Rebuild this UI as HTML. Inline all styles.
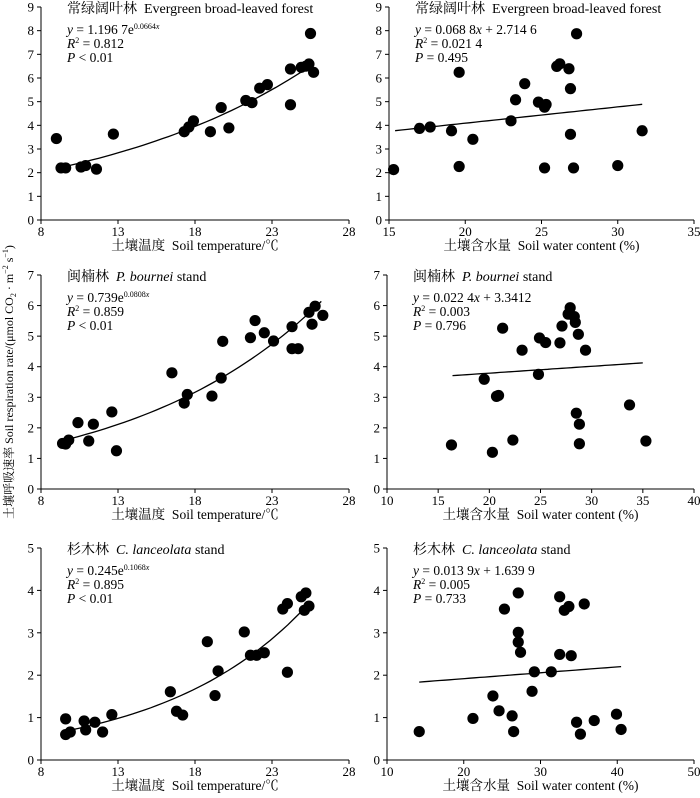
<!DOCTYPE html>
<html><head><meta charset="utf-8">
<style>
html,body{margin:0;padding:0;background:#fff;}
svg{display:block;font-family:"Liberation Serif","Noto Serif CJK SC",serif;}
</style></head>
<body>
<svg id="chart" width="700" height="798" viewBox="0 0 700 798" xmlns="http://www.w3.org/2000/svg">
<text transform="translate(13,382) rotate(-90)" text-anchor="middle" font-size="12">土壤呼吸速率&#160;Soil respiration rate/(μmol CO<tspan font-size="8" dy="3">2</tspan><tspan dy="-3"> · m</tspan><tspan font-size="8" dy="-5">−2</tspan><tspan dy="5"> s</tspan><tspan font-size="8" dy="-5">−1</tspan><tspan dy="5">)</tspan></text>
</svg>
<script>
// ---- data ----
const ebfTemp = [9.0,9.3,9.6,10.6,10.9,11.6,12.7,17.3,17.6,17.9,19.0,19.7,20.2,21.3,21.7,22.2,22.7,24.2,24.2,24.9,25.2,25.4,25.5,25.7];
const ebfTempRs = [3.44,2.2,2.2,2.24,2.3,2.15,3.63,3.73,3.93,4.19,3.73,4.75,3.89,5.05,4.96,5.57,5.72,6.38,4.87,6.45,6.5,6.59,7.88,6.24];
const ebfWater = [15.3,17.0,17.7,19.1,19.6,19.6,20.5,23.0,23.3,23.9,24.8,25.2,25.3,25.2,26.0,26.2,26.8,26.9,26.9,27.1,27.3,30.0,31.6];
const ebfWaterRs = [2.13,3.87,3.93,3.77,6.24,2.26,3.41,4.19,5.08,5.76,4.98,4.77,4.88,2.2,6.49,6.6,6.39,5.55,3.62,2.2,7.87,2.3,3.77];
const pbTemp = [9.4,9.6,9.8,10.4,11.1,11.4,12.6,12.9,16.5,17.3,17.5,19.1,19.7,19.8,21.6,21.9,22.5,23.1,24.3,24.3,24.7,25.4,25.6,25.8,26.3];
const pbTempRs = [1.49,1.47,1.6,2.17,1.57,2.12,2.52,1.25,3.8,2.81,3.09,3.04,3.63,4.83,4.95,5.51,5.11,4.84,5.31,4.59,4.59,5.78,5.39,5.98,5.68];
const pbWater = [16.3,19.5,20.3,20.7,20.9,21.3,22.3,23.2,24.8,24.9,25.5,26.9,27.1,27.7,27.9,28.3,28.4,28.5,28.7,28.8,28.8,29.4,33.7,35.3];
const pbWaterRs = [1.44,3.59,1.2,3.03,3.06,5.26,1.6,4.54,3.75,4.94,4.79,4.78,5.33,5.72,5.93,5.64,5.45,2.48,5.06,2.12,1.48,4.54,2.75,1.57];
const clTemp = [9.6,9.6,9.9,10.8,10.9,11.5,12.0,12.6,16.4,16.8,17.2,18.8,19.3,19.5,21.2,21.6,22.0,22.5,23.7,24.0,24.0,24.9,25.2,25.1,25.4];
const clTempRs = [0.97,0.6,0.66,0.92,0.71,0.89,0.66,1.07,1.61,1.15,1.06,2.79,1.52,2.1,3.02,2.47,2.47,2.53,3.56,3.69,2.07,3.85,3.94,3.53,3.63];
const clWater = [14.2,21.2,23.8,24.6,25.3,26.3,26.5,27.1,27.1,27.1,27.4,28.9,29.2,31.4,32.5,32.5,33.1,33.7,34.0,34.7,35.2,35.7,37.0,39.9,40.5];
const clWaterRs = [0.67,0.98,1.51,1.16,3.56,1.04,0.67,3.94,3.01,2.78,2.54,1.62,2.08,2.08,3.85,2.49,3.53,3.62,2.46,0.89,0.61,3.68,0.93,1.08,0.72];
// fit coefficients [a, b] and fit x-range
const fitEbfTemp = [1.1967, 0.0664], rangeEbfTemp = [9.3, 25.7];
const fitEbfWater = [0.0688, 2.7146], rangeEbfWater = [15.4, 31.6];
const fitPbTemp = [0.739, 0.0808], rangePbTemp = [9.7, 26.2];
const fitPbWater = [0.0224, 3.3412], rangePbWater = [16.4, 35.0];
const fitClTemp = [0.245, 0.1068], rangeClTemp = [9.7, 25.2];
const fitClWater = [0.0139, 1.6399], rangeClWater = [14.2, 40.5];
// tick labels
const tempTicks = [8,13,18,23,28];
const waterTicks1 = [15,20,25,30,35];
const waterTicks2 = [10,15,20,25,30,35,40];
const waterTicks3 = [10,20,30,40,50];
const yTicks9 = [0,1,2,3,4,5,6,7,8,9];
const yTicks7 = [0,1,2,3,4,5,6,7];
const yTicks5 = [0,1,2,3,4,5];

const NS = "http://www.w3.org/2000/svg";
const svg = document.getElementById('chart');
function mk(tag, attrs, parent, text){
  const e = document.createElementNS(NS, tag);
  for (const k in attrs) e.setAttribute(k, attrs[k]);
  if (text !== undefined) e.textContent = text;
  (parent||svg).appendChild(e);
  return e;
}
function panel(o){
  const g = mk('g', {});
  
  
  const xs = v => o.x0 + (v - o.xt[0]) / (o.xt[o.xt.length-1] - o.xt[0]) * (o.x1 - o.x0);
  const ys = v => o.y0 - (v - o.yt[0]) / (o.yt[o.yt.length-1] - o.yt[0]) * (o.y0 - o.y1);
  const ax = mk('path', {d:`M${o.x0},${o.y1} V${o.y0} H${o.x1}`, stroke:'#000', 'stroke-width':1, fill:'none'}, g);
  
  
  o.yt.forEach(t => {
    const y = ys(t);
    mk('line', {x1:o.x0-4, x2:o.x0, y1:y, y2:y, stroke:'#000'}, g);
    const l = mk('text', {x:o.x0-7, y:y+4.5, 'text-anchor':'end', 'font-size':13}, g, t);
    
    
  });
  o.xt.forEach(t => {
    const x = xs(t);
    mk('line', {x1:x, x2:x, y1:o.y0, y2:o.y0+4, stroke:'#000'}, g);
    const l = mk('text', {x:x, y:o.y0+16, 'text-anchor':'middle', 'font-size':13}, g, t);
    
    
  });
  const xt = mk('text', {x:(o.x0+o.x1)/2, y:o.y0+30, 'text-anchor':'middle', 'font-size':13.5}, g, o.xlabel);
  
  
  let d = '';
  const n = 40;
  for (let i = 0; i <= n; i++) {
    const xv = o.range[0] + (o.range[1]-o.range[0]) * i / n;
    const yv = o.exp ? o.fit[0]*Math.exp(o.fit[1]*xv) : o.fit[0]*xv + o.fit[1];
    d += (i ? 'L' : 'M') + xs(xv).toFixed(1) + ',' + ys(yv).toFixed(1);
  }
  const fl = mk('path', {d:d, stroke:'#000', 'stroke-width':1.3, fill:'none'}, g);
  
  
  o.xv.forEach((v, i) => {
    const c = mk('circle', {cx:xs(v), cy:ys(o.yv[i]), r:5.6, fill:'#000'}, g);
    
    
  });
  const tx = o.x0 + 26;
  const tt = mk('text', {x:tx, y:o.y1+6, 'font-size':14}, g);
  tt.innerHTML = o.title;
  
  
  const eq = mk('text', {x:tx, y:o.y1+27, 'font-size':13.5}, g);
  eq.innerHTML = o.eq;
  
  
  const r2 = mk('text', {x:tx, y:o.y1+41, 'font-size':13.5}, g);
  r2.innerHTML = '<tspan font-style="italic">R</tspan><tspan font-size="8" dy="-5">2</tspan><tspan dy="5"> = ' + o.r2 + '</tspan>';
  
  
  const p = mk('text', {x:tx, y:o.y1+55, 'font-size':13.5}, g);
  p.innerHTML = '<tspan font-style="italic">P</tspan> ' + o.p;
  
  
}
const TX = '土壤温度\u00a0\u00a0Soil temperature/℃', WX = '土壤含水量\u00a0\u00a0Soil water content (%)';
const L = [41, 349], R1 = [389, 694], R = [387, 694];
panel({name:'panel-ebf-temperature', x0:L[0], x1:L[1], y0:220, y1:7, xt:tempTicks, yt:yTicks9, xv:ebfTemp, yv:ebfTempRs, fit:fitEbfTemp, range:rangeEbfTemp, exp:true, xlabel:TX,
  title:'常绿阔叶林&#160;&#160;Evergreen broad-leaved forest', eq:'<tspan font-style="italic">y</tspan> = 1.196 7e<tspan font-size="8" dy="-5">0.0664<tspan font-style="italic">x</tspan></tspan>', r2:'0.812', p:'&lt; 0.01'});
panel({name:'panel-ebf-water', x0:R1[0], x1:R1[1], y0:220, y1:7, xt:waterTicks1, yt:yTicks9, xv:ebfWater, yv:ebfWaterRs, fit:fitEbfWater, range:rangeEbfWater, exp:false, xlabel:WX,
  title:'常绿阔叶林&#160;&#160;Evergreen broad-leaved forest', eq:'<tspan font-style="italic">y</tspan> = 0.068 8<tspan font-style="italic">x</tspan> + 2.714 6', r2:'0.021 4', p:'= 0.495'});
panel({name:'panel-pb-temperature', x0:L[0], x1:L[1], y0:489, y1:275, xt:tempTicks, yt:yTicks7, xv:pbTemp, yv:pbTempRs, fit:fitPbTemp, range:rangePbTemp, exp:true, xlabel:TX,
  title:'闽楠林&#160;&#160;<tspan font-style="italic">P. bournei</tspan> stand', eq:'<tspan font-style="italic">y</tspan> = 0.739e<tspan font-size="8" dy="-5">0.0808<tspan font-style="italic">x</tspan></tspan>', r2:'0.859', p:'&lt; 0.01'});
panel({name:'panel-pb-water', x0:R[0], x1:R[1], y0:489, y1:275, xt:waterTicks2, yt:yTicks7, xv:pbWater, yv:pbWaterRs, fit:fitPbWater, range:rangePbWater, exp:false, xlabel:WX,
  title:'闽楠林&#160;&#160;<tspan font-style="italic">P. bournei</tspan> stand', eq:'<tspan font-style="italic">y</tspan> = 0.022 4<tspan font-style="italic">x</tspan> + 3.3412', r2:'0.003', p:'= 0.796'});
panel({name:'panel-cl-temperature', x0:L[0], x1:L[1], y0:760, y1:548, xt:tempTicks, yt:yTicks5, xv:clTemp, yv:clTempRs, fit:fitClTemp, range:rangeClTemp, exp:true, xlabel:TX,
  title:'杉木林&#160;&#160;<tspan font-style="italic">C. lanceolata</tspan> stand', eq:'<tspan font-style="italic">y</tspan> = 0.245e<tspan font-size="8" dy="-5">0.1068<tspan font-style="italic">x</tspan></tspan>', r2:'0.895', p:'&lt; 0.01'});
panel({name:'panel-cl-water', x0:R[0], x1:R[1], y0:760, y1:548, xt:waterTicks3, yt:yTicks5, xv:clWater, yv:clWaterRs, fit:fitClWater, range:rangeClWater, exp:false, xlabel:WX,
  title:'杉木林&#160;&#160;<tspan font-style="italic">C. lanceolata</tspan> stand', eq:'<tspan font-style="italic">y</tspan> = 0.013 9<tspan font-style="italic">x</tspan> + 1.639 9', r2:'0.005', p:'= 0.733'});
</script>
</body></html>
